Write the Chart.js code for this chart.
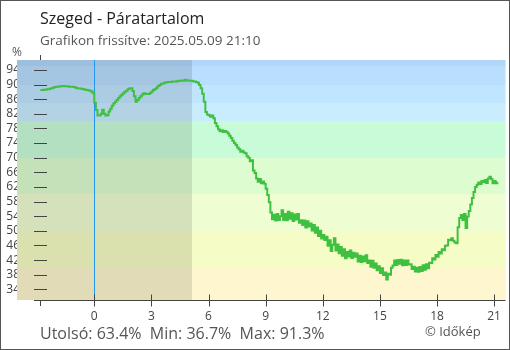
<!DOCTYPE html>
<html>
<head>
<meta charset="utf-8">
<script src="https://cdn.jsdelivr.net/npm/chart.js@4"></script>
<style>
  html, body { margin: 0; padding: 0; background: #fff; }
  #wrap { position: relative; width: 510px; height: 350px; font-family: "Open Sans", sans-serif; color: #555; }
  #wrap canvas { position: absolute; left: 0; top: 0; }
  .lbl { position: absolute; white-space: pre; line-height: 1; }
  #title { left: 40px; top: 10px; font-size: 16px; color: #222; }
  #subtitle { left: 40px; top: 33.5px; font-size: 13.5px; color: #555; }
  #unit { left: 12px; top: 46px; font-size: 12px; color: #555; }
  #stats { left: 40px; top: 325px; font-size: 16px; color: #555; }
  #credit { left: 425px; top: 325px; font-size: 13px; color: #555; }
</style>
</head>
<body>
<div id="wrap">
  <canvas id="chart" width="510" height="350"></canvas>
  <div class="lbl" id="title">Szeged - Páratartalom</div>
  <div class="lbl" id="subtitle">Grafikon frissítve: 2025.05.09 21:10</div>
  <div class="lbl" id="unit">%</div>
  <div class="lbl" id="stats"></div>
  <div class="lbl" id="credit">© Időkép</div>
</div>
<script>
// relative humidity (%), one reading every 5 minutes, from 21:10 the day before to 21:10
const startHour = -34 / 12;
const stepHours = 5 / 60;
const humidity = [
  88.5, 88.5, 88.6, 88.6, 88.7, 88.7, 88.9, 89.0, 89.2, 89.3,
  89.4, 89.4, 89.5, 89.5, 89.6, 89.5, 89.5, 89.5, 89.4, 89.4, 89.4, 89.3,
  89.1, 89.0, 88.9, 88.9, 88.8, 88.7, 88.6, 88.5, 88.4, 88.3, 88.1, 87.6,
  85.0, 83.0, 81.5, 81.5, 82.0, 83.1, 82.0, 81.5, 81.6, 82.6, 83.4, 84.2,
  84.8, 85.3, 85.8, 86.3, 86.8, 87.2, 87.6, 88.0, 88.3, 88.7, 88.9, 89.0,
  88.2, 86.8, 85.3, 85.8, 86.3, 86.8, 87.3, 87.6, 87.5, 87.4, 87.4, 87.7,
  88.1, 88.5, 88.8, 89.1, 89.6, 89.9, 90.2, 90.3, 90.5, 90.6, 90.7, 90.7,
  90.7, 90.8, 90.8, 90.8, 90.9, 91.0, 91.0, 91.1, 91.0, 91.3, 91.1, 91.1,
  91.0, 91.0, 90.9, 90.8, 90.7, 90.5, 89.9, 89.0, 87.5, 85.3, 82.5, 81.8,
  81.6, 81.2, 81.5, 80.8, 79.5, 78.6, 77.8, 77.2, 77.5, 77.0, 77.3, 77.1,
  76.6, 76.0, 75.4, 74.6, 74.0, 73.5, 72.8, 72.3, 71.6, 71.9, 71.4, 71.2,
  70.4, 70.0, 69.0, 69.3, 66.5, 65.8, 64.3, 63.4, 64.2, 63.0, 63.5, 62.9,
  61.5, 59.8, 57.8, 55.0, 53.2, 54.4, 52.8, 54.6, 53.0, 54.0, 55.6, 53.0,
  54.6, 52.9, 55.2, 53.3, 54.8, 52.7, 54.5, 53.1, 54.6, 52.2, 52.9, 51.6,
  52.8, 50.9, 52.6, 51.2, 52.0, 50.1, 51.6, 49.5, 50.9, 48.6, 50.0, 47.9,
  48.9, 47.5, 48.4, 45.9, 47.4, 44.5, 46.2, 48.0, 44.6, 46.3, 43.9, 45.6,
  43.2, 45.0, 42.5, 44.2, 43.0, 44.6, 42.6, 44.0, 42.9, 43.8, 41.6, 43.2,
  41.5, 43.0, 41.7, 43.3, 41.2, 41.9, 40.2, 41.8, 39.9, 41.1, 39.2, 40.3,
  38.5, 39.8, 37.9, 38.6, 36.7, 38.3, 38.0, 39.9, 40.5, 41.9, 40.7, 42.0,
  41.0, 42.1, 40.6, 41.9, 40.7, 41.9, 40.8, 40.9, 39.6, 40.2, 38.9, 39.9,
  38.8, 40.1, 39.0, 40.6, 39.4, 40.9, 39.8, 41.3, 41.2, 42.5, 42.2, 43.4,
  42.9, 44.2, 43.8, 45.0, 44.7, 45.9, 46.0, 47.6, 47.4, 48.0, 47.3, 46.8,
  46.6, 51.0, 53.5, 54.3, 53.0, 54.6, 50.8, 53.9, 55.4, 57.2, 59.0, 60.6,
  62.0, 62.6, 63.2, 62.8, 63.6, 63.3, 63.9, 63.1, 64.3, 64.8, 64.2, 63.0,
  63.6, 63.0, 63.4
];
const xTicks = [0, 3, 6, 9, 12, 15, 18, 21];
const yTicks = [94, 90, 86, 82, 78, 74, 70, 66, 62, 58, 54, 50, 46, 42, 38, 34];
const bandEdges = [95, 90, 85, 80, 70, 60, 50, 40];   // humidity band limits, top to bottom
const midnightHour = 0;
const sunriseHour = 5.15;

const xMin = -4.06, xMax = 21.6;
const yMin = 31.1, yMax = 96.7;

const bandColors = ["#b1d6fb", "#badffe", "#c0e6ff", "#c9ecff", "#c8fcd8", "#ddfdd0", "#effdd2", "#f6fcc5", "#fdf6ce"];
const axisColor = "#444";
const font = "'Open Sans', sans-serif";

const last = humidity[humidity.length - 1];
const lo = Math.min(...humidity);
const hi = Math.max(...humidity);
document.getElementById("stats").textContent =
  "Utolsó: " + last.toFixed(1) + "%  Min: " + lo.toFixed(1) + "%  Max: " + hi.toFixed(1) + "%";

const decor = {
  id: "decor",
  beforeDatasetsDraw(chart) {
    const { ctx, chartArea: a, scales: { x, y } } = chart;
    const x0 = Math.round(x.getPixelForValue(startHour)) + 0.5;
    ctx.save();
    ctx.strokeStyle = axisColor;
    ctx.lineWidth = 1;
    ctx.beginPath();
    ctx.moveTo(x0, a.top - 5);
    ctx.lineTo(x0, a.bottom + 6);
    ctx.stroke();

    // humidity bands
    const edges = [yMax, ...bandEdges, yMin];
    for (let i = 0; i < bandColors.length; i++) {
      const top = Math.round(y.getPixelForValue(edges[i]));
      const bot = Math.round(y.getPixelForValue(edges[i + 1]));
      ctx.fillStyle = bandColors[i];
      ctx.fillRect(a.left, top, a.right - a.left, bot - top);
    }

    // night until sunrise
    const xs = Math.round(x.getPixelForValue(sunriseHour));
    ctx.fillStyle = "rgba(0,0,0,0.11)";
    ctx.fillRect(a.left, a.top, xs - a.left, a.bottom - a.top);

    // midnight
    const xm = Math.round(x.getPixelForValue(midnightHour)) + 0.5;
    ctx.strokeStyle = "#2196f3";
    ctx.beginPath();
    ctx.moveTo(xm, a.top);
    ctx.lineTo(xm, a.bottom);
    ctx.stroke();

    // y tick marks
    ctx.strokeStyle = axisColor;
    y.ticks.forEach(t => {
      const py = Math.round(y.getPixelForValue(t.value)) + 0.5;
      ctx.beginPath();
      ctx.moveTo(x0 - 6.5, py);
      ctx.lineTo(x0 + 6.5, py);
      ctx.stroke();
    });
    ctx.restore();
  },
  afterDatasetsDraw(chart) {
    const { ctx, chartArea: a, scales: { x } } = chart;
    const x0 = Math.round(x.getPixelForValue(startHour)) + 0.5;
    const yb = Math.round(a.bottom) + 0.5;
    ctx.save();
    ctx.strokeStyle = axisColor;
    ctx.lineWidth = 1;
    ctx.beginPath();
    ctx.moveTo(x0 - 6.5, yb);
    ctx.lineTo(a.right, yb);
    x.ticks.forEach(t => {
      const px = Math.round(x.getPixelForValue(t.value)) + 0.5;
      ctx.moveTo(px, yb - 6);
      ctx.lineTo(px, yb + 6);
    });
    ctx.stroke();
    ctx.restore();
  },
  afterDraw(chart) {
    const { ctx, width, height } = chart;
    ctx.save();
    ctx.strokeStyle = "#555";
    ctx.lineWidth = 1;
    ctx.strokeRect(0.5, 0.5, width - 1, height - 1);
    ctx.restore();
  }
};

new Chart(document.getElementById("chart"), {
  type: "line",
  data: {
    datasets: [{
      data: humidity.map((v, i) => ({ x: startHour + i * stepHours, y: v })),
      borderColor: "#40c040",
      borderWidth: 2,
      pointRadius: 0,
      tension: 0,
      stepped: true
    }]
  },
  options: {
    responsive: false,
    animation: false,
    layout: { padding: { left: 6, right: 1, top: 60, bottom: 10 } },
    plugins: {
      legend: { display: false },
      tooltip: { enabled: false }
    },
    scales: {
      x: {
        type: "linear",
        min: xMin,
        max: xMax,
        grid: { display: false, drawTicks: false },
        border: { display: false },
        afterBuildTicks: s => { s.ticks = xTicks.map(v => ({ value: v })); },
        afterFit: s => { s.height = 40; },
        ticks: { padding: 9, color: axisColor, font: { family: font, size: 12 }, autoSkip: false, maxRotation: 0 }
      },
      y: {
        min: yMin,
        max: yMax,
        grid: { display: false, drawTicks: false },
        border: { display: false },
        afterBuildTicks: s => { s.ticks = yTicks.map(v => ({ value: v })); },
        afterFit: s => { s.width = 11; },
        ticks: { padding: -3, color: axisColor, font: { family: font, size: 12 }, autoSkip: false }
      }
    }
  },
  plugins: [decor]
});
</script>
</body>
</html>
